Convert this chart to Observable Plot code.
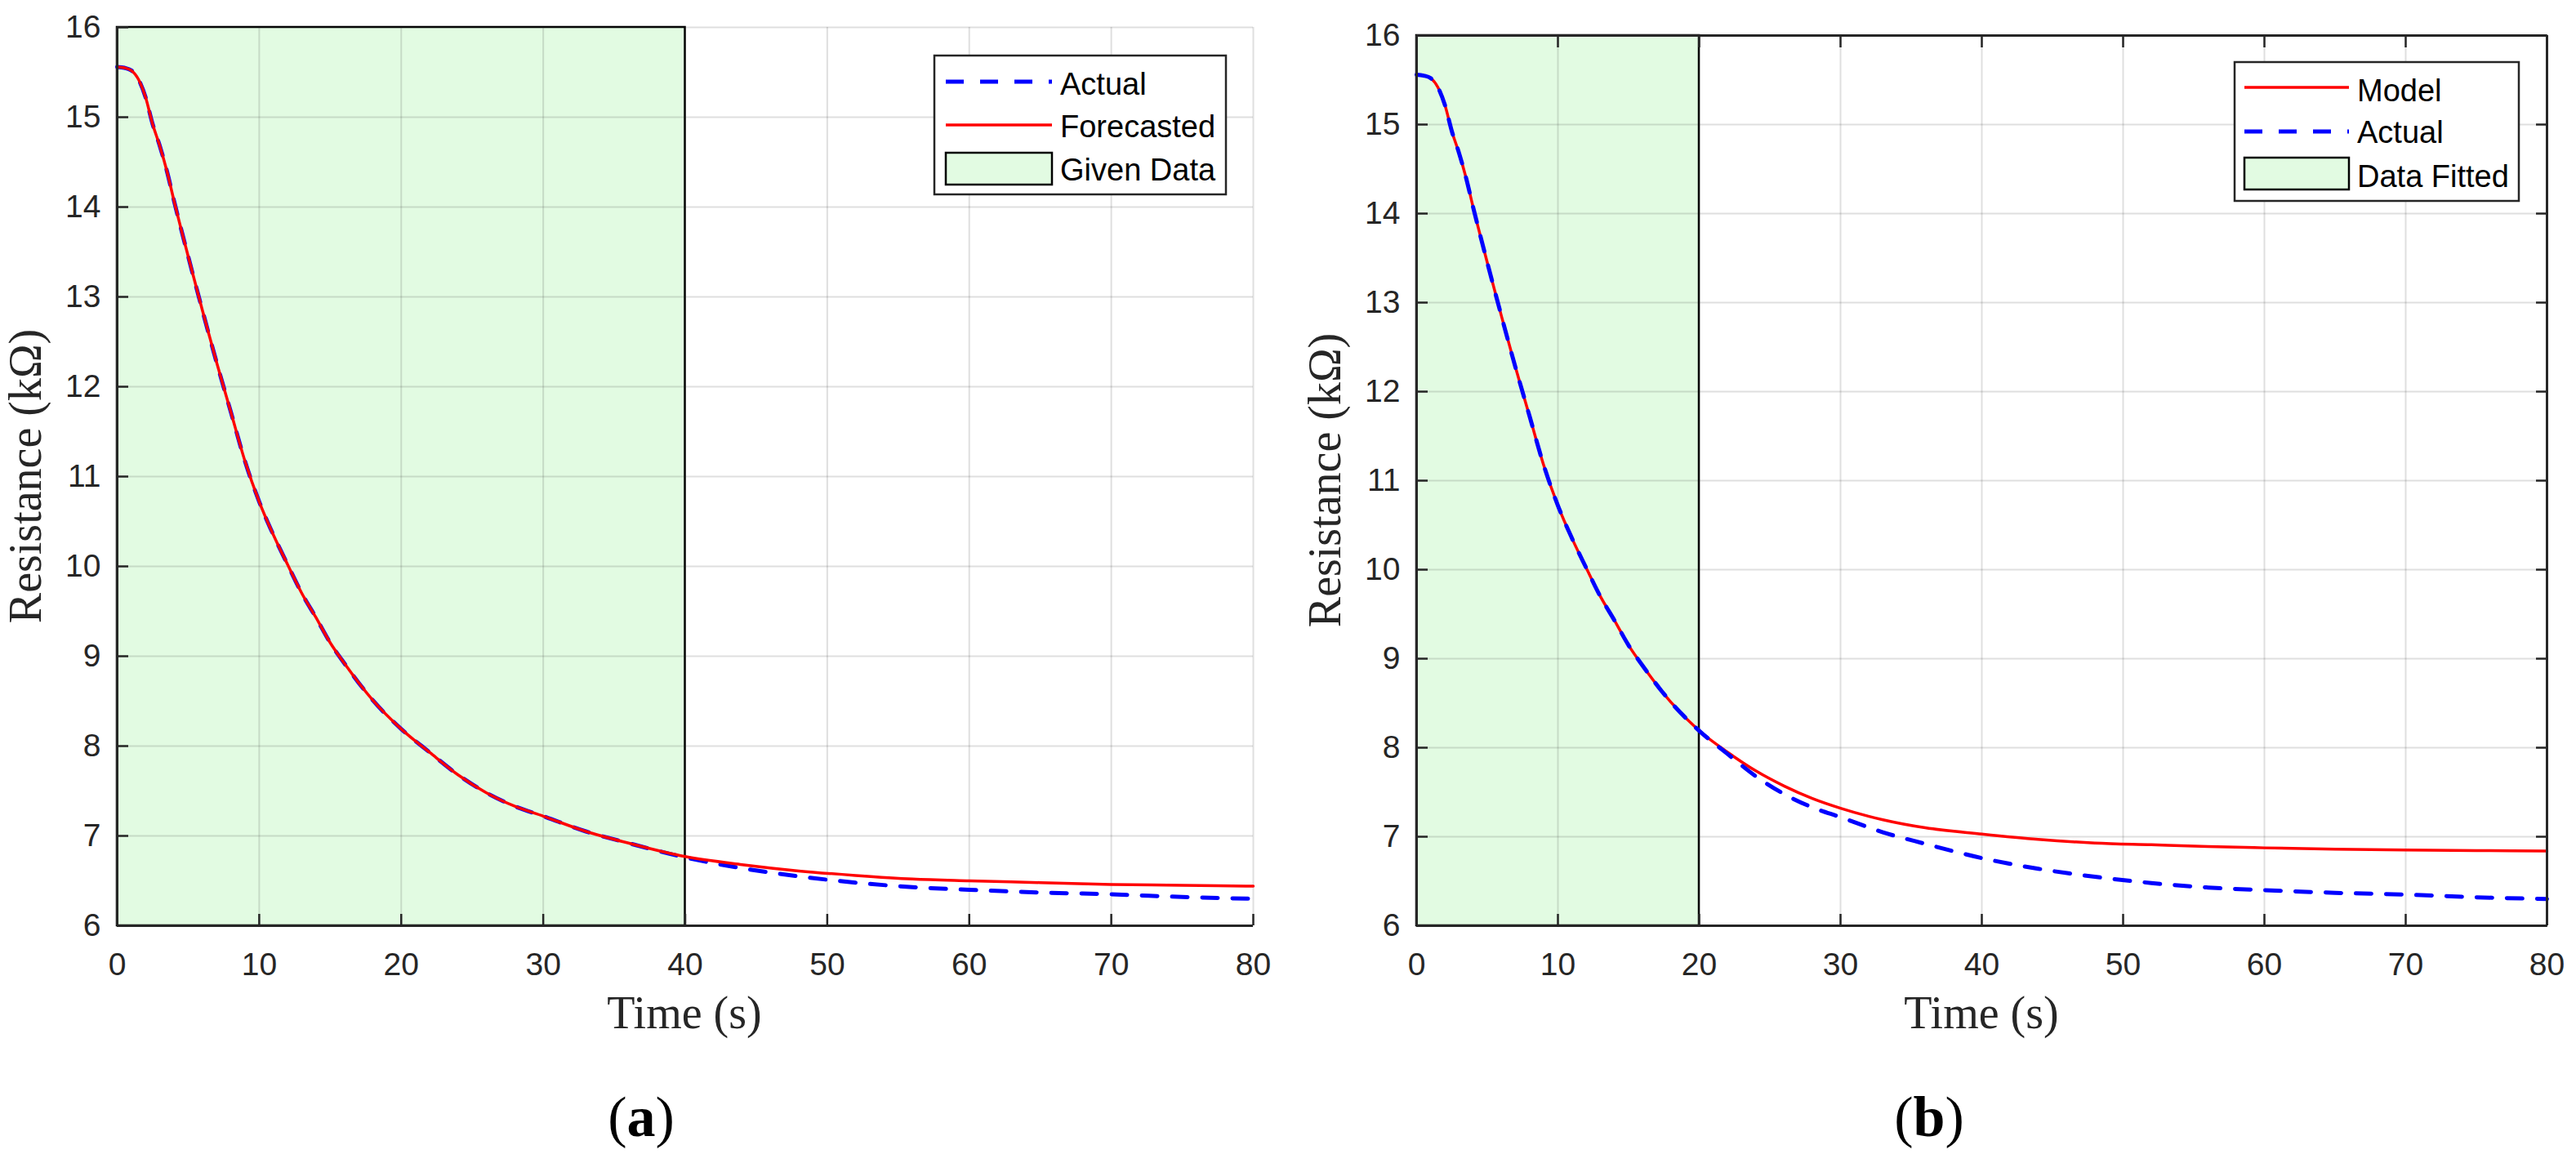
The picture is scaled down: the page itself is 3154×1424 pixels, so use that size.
<!DOCTYPE html>
<html>
<head>
<meta charset="utf-8">
<script src="https://cdn.jsdelivr.net/npm/d3@7"></script>
<script src="https://cdn.jsdelivr.net/npm/@observablehq/plot@0.6"></script>
<style>
html, body { margin: 0; padding: 0; background: #fff; }
#page { position: relative; width: 3154px; height: 1424px; overflow: hidden; background: #fff; }
.panel { position: absolute; top: 0; }
#overlay { position: absolute; left: 0; top: 0; pointer-events: none; }
</style>
</head>
<body>
<div id="page">
  <div class="panel" id="pa" style="left:0px"></div>
  <div class="panel" id="pb" style="left:1577px"></div>
  <svg id="overlay" width="3154" height="1424"></svg>
</div>
<script>
// ---------------- data ----------------
const time = [0, 0.5, 1, 1.5, 2, 2.5, 3, 3.5, 4, 5, 6, 7, 8, 9, 10, 11, 12, 13, 14, 15, 16, 18, 20, 22, 24, 26, 28, 30, 33, 36, 40, 44, 48, 52, 56, 60, 65, 70, 75, 80];
const actual = [15.56, 15.55, 15.52, 15.42, 15.22, 14.92, 14.68, 14.40, 14.07, 13.45, 12.85, 12.27, 11.72, 11.17, 10.72, 10.35, 10.02, 9.70, 9.43, 9.15, 8.92, 8.51, 8.19, 7.93, 7.68, 7.48, 7.33, 7.22, 7.05, 6.92, 6.76, 6.64, 6.55, 6.48, 6.43, 6.40, 6.37, 6.35, 6.32, 6.30];
const forecasted = [15.56, 15.55, 15.52, 15.42, 15.22, 14.92, 14.68, 14.40, 14.07, 13.45, 12.85, 12.27, 11.72, 11.17, 10.72, 10.35, 10.02, 9.70, 9.43, 9.15, 8.92, 8.51, 8.19, 7.93, 7.68, 7.48, 7.33, 7.22, 7.05, 6.92, 6.77, 6.68, 6.61, 6.56, 6.52, 6.50, 6.48, 6.46, 6.45, 6.44];
const model = [15.56, 15.55, 15.52, 15.42, 15.22, 14.92, 14.68, 14.40, 14.07, 13.45, 12.85, 12.27, 11.72, 11.17, 10.72, 10.35, 10.02, 9.70, 9.43, 9.15, 8.92, 8.51, 8.19, 7.95, 7.74, 7.57, 7.43, 7.32, 7.19, 7.10, 7.03, 6.97, 6.93, 6.91, 6.89, 6.875, 6.86, 6.85, 6.845, 6.84];

const xTicks = [0, 10, 20, 30, 40, 50, 60, 70, 80];
const yTicks = [6, 7, 8, 9, 10, 11, 12, 13, 14, 15, 16];
const xDomain = [0, 80];
const yDomain = [6, 16];
const givenDataWindow = [0, 40];   // panel (a)
const dataFittedWindow = [0, 20];  // panel (b)

const legendA = ["Actual", "Forecasted", "Given Data"];
const legendB = ["Model", "Actual", "Data Fitted"];
const captions = ["a", "b"];

// ---------------- styles ----------------
const AXIS = "#262626";
const GREEN = "#e2fbe2";
const BLUE = "#0000ff";
const RED = "#ff0000";
const SANS = "'Liberation Sans', Arial, Helvetica, sans-serif";
const SERIF = "'Liberation Serif', 'Times New Roman', serif";
const intFmt = d => String(d);

const rows = ys => time.map((t, i) => ({t, v: ys[i]}));

function panel({marginLeft, marginRight, marginTop, marginBottom, win, lines, boxed}) {
  const tickOpts = {tickFormat: () => "", stroke: AXIS, strokeWidth: 2.5, label: null};
  const marks = [
    Plot.rect([{x1: win[0], x2: win[1], y1: yDomain[0], y2: yDomain[1]}],
      {x1: "x1", x2: "x2", y1: "y1", y2: "y2", fill: GREEN, stroke: "#000", strokeWidth: 2.5}),
    Plot.gridX(xTicks, {stroke: AXIS, strokeOpacity: 0.15, strokeWidth: 2}),
    Plot.gridY(yTicks, {stroke: AXIS, strokeOpacity: 0.15, strokeWidth: 2}),
    ...lines.map(l => Plot.line(rows(l.values), {
      x: "t", y: "v", stroke: l.stroke, strokeWidth: l.width,
      strokeDasharray: l.dash || null, curve: "monotone-x"
    })),
    Plot.ruleX([xDomain[0]], {stroke: AXIS, strokeWidth: 3}),
    Plot.ruleY([yDomain[0]], {stroke: AXIS, strokeWidth: 3}),
    Plot.axisX(xTicks, {tickSize: 0, tickPadding: 33, fontSize: 39, fontFamily: SANS, fill: AXIS, label: null, tickFormat: intFmt}),
    Plot.axisX(xTicks, {tickSize: -14, ...tickOpts}),
    Plot.axisY(yTicks, {tickSize: 0, tickPadding: 20, fontSize: 39, fontFamily: SANS, fill: AXIS, label: null, tickFormat: intFmt}),
    Plot.axisY(yTicks, {tickSize: -14, ...tickOpts})
  ];
  if (boxed) {
    marks.push(
      Plot.ruleX([xDomain[1]], {stroke: AXIS, strokeWidth: 3}),
      Plot.ruleY([yDomain[1]], {stroke: AXIS, strokeWidth: 3}),
      Plot.axisX(xTicks, {anchor: "top", tickSize: -14, ...tickOpts}),
      Plot.axisY(yTicks, {anchor: "right", tickSize: -14, ...tickOpts})
    );
  }
  return Plot.plot({
    width: 1577, height: 1290,
    marginLeft, marginRight, marginTop, marginBottom,
    x: {domain: xDomain, label: null},
    y: {domain: yDomain, label: null},
    style: {background: "transparent", maxWidth: "none", overflow: "visible"},
    marks
  });
}

document.getElementById("pa").append(panel({
  marginLeft: 143, marginRight: 43, marginTop: 33, marginBottom: 157,
  win: givenDataWindow, boxed: false,
  lines: [
    {values: actual, stroke: BLUE, width: 5, dash: "19,18"},
    {values: forecasted, stroke: RED, width: 3.5}
  ]
}));

document.getElementById("pb").append(panel({
  marginLeft: 157, marginRight: 36, marginTop: 43, marginBottom: 157,
  win: dataFittedWindow, boxed: true,
  lines: [
    {values: model, stroke: RED, width: 3.5},
    {values: actual, stroke: BLUE, width: 5, dash: "19,18"}
  ]
}));

// ---------------- labels, captions, legends ----------------
const ov = d3.select("#overlay");

function yLabel(x, y) {
  ov.append("text").attr("transform", `translate(${x},${y}) rotate(-90)`)
    .attr("text-anchor", "middle").attr("font-family", SERIF).attr("font-size", 56)
    .attr("fill", AXIS).text("Resistance (kΩ)");
}
function xLabel(x, y) {
  ov.append("text").attr("x", x).attr("y", y)
    .attr("text-anchor", "middle").attr("font-family", SERIF).attr("font-size", 56)
    .attr("fill", AXIS).text("Time (s)");
}
function caption(x, y, letter) {
  const t = ov.append("text").attr("x", x).attr("y", y)
    .attr("text-anchor", "middle").attr("font-family", SERIF).attr("font-size", 70).attr("fill", "#000");
  t.append("tspan").text("(");
  t.append("tspan").attr("font-weight", "bold").text(letter);
  t.append("tspan").text(")");
}
yLabel(50, 583); yLabel(1641, 588);
xLabel(838, 1259); xLabel(2426, 1259);
caption(785, 1391, captions[0]); caption(2362, 1391, captions[1]);

function legend({x, y, w, h, sx1, sx2, tx, items}) {
  ov.append("rect").attr("x", x).attr("y", y).attr("width", w).attr("height", h)
    .attr("fill", "#fff").attr("stroke", AXIS).attr("stroke-width", 2.5);
  items.forEach(it => {
    if (it.kind === "line") {
      ov.append("line").attr("x1", sx1).attr("x2", sx2).attr("y1", it.y).attr("y2", it.y)
        .attr("stroke", it.stroke).attr("stroke-width", it.width)
        .attr("stroke-dasharray", it.dash || null);
    } else {
      ov.append("rect").attr("x", sx1).attr("y", it.y1).attr("width", sx2 - sx1).attr("height", it.y2 - it.y1)
        .attr("fill", GREEN).attr("stroke", "#000").attr("stroke-width", 2.5);
    }
    ov.append("text").attr("x", tx).attr("y", it.base).attr("font-family", SANS)
      .attr("font-size", 38).attr("fill", "#000").text(it.label);
  });
}
legend({x: 1144, y: 68, w: 357, h: 170, sx1: 1158, sx2: 1288, tx: 1298, items: [
  {kind: "line", y: 100, stroke: BLUE, width: 5, dash: "22,20", base: 116, label: legendA[0]},
  {kind: "line", y: 153, stroke: RED, width: 3.5, base: 168, label: legendA[1]},
  {kind: "patch", y1: 187, y2: 226, base: 221, label: legendA[2]}
]});
legend({x: 2736, y: 76, w: 348, h: 170, sx1: 2748, sx2: 2876, tx: 2886, items: [
  {kind: "line", y: 107, stroke: RED, width: 3.5, base: 124, label: legendB[0]},
  {kind: "line", y: 161, stroke: BLUE, width: 5, dash: "22,20", base: 175, label: legendB[1]},
  {kind: "patch", y1: 193, y2: 232, base: 229, label: legendB[2]}
]});
</script>
</body>
</html>
